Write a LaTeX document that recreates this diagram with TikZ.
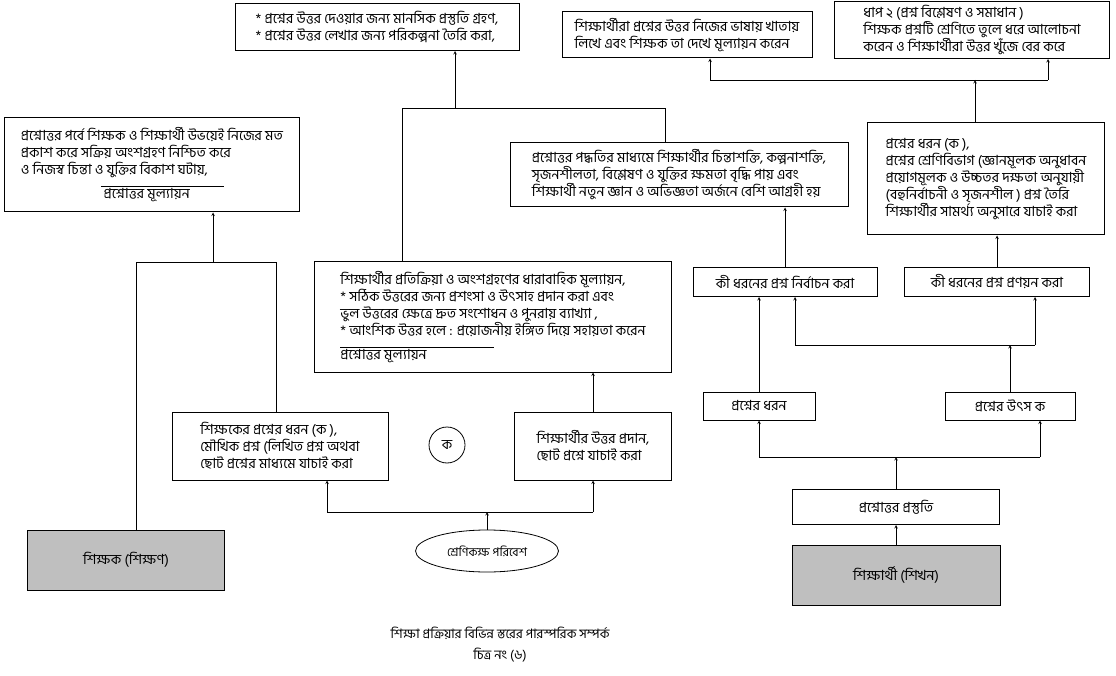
\documentclass[tikz,border=0pt]{standalone}
\usepackage{fontspec}
\newfontfamily\bnfont[Script=Bengali]{Hind Siliguri}
\usetikzlibrary{shapes.geometric}

\newcommand\boxfont{\bnfont\fontsize{14}{17}\selectfont}

\tikzset{
  box/.style={draw, line width=1pt, inner xsep=7pt, inner ysep=2pt, align=left, font=\boxfont},
  greybox/.style={box, fill=gray!50, align=center},
  conn/.style={line width=0.6pt},
  arr/.style={conn, ->, >=stealth}
}

\begin{document}
\begin{tikzpicture}[x=1pt, y=-1pt]
	\useasboundingbox (0,0) rectangle (1116,676);

	% top row
	\node[box, minimum width=284pt, minimum height=47pt] (prep) at (377,27) {* প্রশ্নের উত্তর দেওয়ার জন্য মানসিক প্রস্তুতি গ্রহণ,\\* প্রশ্নের উত্তর লেখার জন্য পরিকল্পনা তৈরি করা,};
	\node[box, minimum width=250pt, minimum height=46pt] (answer) at (687,35) {শিক্ষার্থীরা প্রশ্নের উত্তর নিজের ভাষায় খাতায়\\লিখে এবং শিক্ষক তা দেখে মূল্যায়ন করেন};
	\node[box, minimum width=275pt, minimum height=57pt] (stepTwo) at (972,30) {ধাপ ২ (প্রশ্ন বিশ্লেষণ ও সমাধান )\\শিক্ষক প্রশ্নটি শ্রেণিতে তুলে ধরে আলোচনা\\করেন ও শিক্ষার্থীরা উত্তর খুঁজে বের করে};

	% middle row
	\node[box, minimum width=295pt, minimum height=94pt] (discuss) at (152,165) {প্রশ্নোত্তর পর্বে শিক্ষক ও শিক্ষার্থী উভয়েই নিজের মত\\প্রকাশ করে সক্রিয় অংশগ্রহণ নিশ্চিত করে\\ও নিজস্ব চিন্তা ও যুক্তির বিকাশ ঘটায়,\\[-5pt]\hspace*{5.7em}\rule{8.8em}{0.6pt}\\[-5pt]\hspace*{5.9em}প্রশ্নোত্তর মূল্যায়ন};
	\node[box, minimum width=338pt, minimum height=64pt] (effect) at (679,175) {প্রশ্নোত্তর পদ্ধতির মাধ্যমে শিক্ষার্থীর চিন্তাশক্তি, কল্পনাশক্তি,\\সৃজনশীলতা, বিশ্লেষণ ও যুক্তির ক্ষমতা বৃদ্ধি পায় এবং\\শিক্ষার্থী নতুন জ্ঞান ও অভিজ্ঞতা অর্জনে বেশি আগ্রহী হয়};
	\node[box, minimum width=237pt, minimum height=112pt] (types) at (986,179) {প্রশ্নের ধরন (ক ),\\প্রশ্নের শ্রেণিবিভাগ (জ্ঞানমূলক অনুধাবন\\প্রয়োগমূলক ও উচ্চতর দক্ষতা অনুযায়ী\\(বহুনির্বাচনী ও সৃজনশীল ) প্রশ্ন তৈরি\\শিক্ষার্থীর সামর্থ্য অনুসারে যাচাই করা};

	\node[box, minimum width=357pt, minimum height=110pt] (feedback) at (493,317) {শিক্ষার্থীর প্রতিক্রিয়া ও অংশগ্রহণের ধারাবাহিক মূল্যায়ন,\\* সঠিক উত্তরের জন্য প্রশংসা ও উৎসাহ প্রদান করা এবং\\ভুল উত্তরের ক্ষেত্রে দ্রুত সংশোধন ও পুনরায় ব্যাখ্যা ,\\* আংশিক উত্তর হলে : প্রয়োজনীয় ইঙ্গিত দিয়ে সহায়তা করেন\\[-5pt]\rule{11em}{0.6pt}\\[-5pt]প্রশ্নোত্তর মূল্যায়ন};
	\node[box, minimum width=184pt, minimum height=29pt] (chooseQ) at (785,282) {কী ধরনের প্রশ্ন নির্বাচন করা};
	\node[box, minimum width=185pt, minimum height=29pt] (makeQ) at (997,282) {কী ধরনের প্রশ্ন প্রণয়ন করা};

	% lower row
	\node[box, minimum width=216pt, minimum height=68pt] (teachAsk) at (280,446) {শিক্ষকের প্রশ্নের ধরন (ক ),\\মৌখিক প্রশ্ন (লিখিত প্রশ্ন অথবা\\ছোট প্রশ্নের মাধ্যমে যাচাই করা};
	\node[draw, circle, line width=0.8pt, minimum size=36pt, font=\boxfont] (mark) at (447,445) {ক};
	\node[box, minimum width=157pt, minimum height=68pt] (learnReply) at (593,446) {শিক্ষার্থীর উত্তর প্রদান,\\ছোট প্রশ্নে যাচাই করা};
	\node[box, minimum width=112pt, minimum height=28pt, align=center] (qKind) at (759,406) {প্রশ্নের ধরন};
	\node[box, minimum width=130pt, minimum height=28pt, align=center] (qSource) at (1010,406) {প্রশ্নের উৎস ক};
	\node[box, minimum width=207pt, minimum height=35pt, align=center] (qPrep) at (896,507) {প্রশ্নোত্তর প্রস্তুতি};

	% bottom
	\node[greybox, minimum width=197pt, minimum height=60pt] (teacher) at (126,560) {শিক্ষক (শিক্ষণ)};
	\node[greybox, minimum width=208pt, minimum height=60pt] (learner) at (896,575) {শিক্ষার্থী (শিখন)};
	\node[draw, ellipse, line width=0.8pt, minimum width=143pt, minimum height=42pt, font=\bnfont\fontsize{12}{14}\selectfont] (room) at (487,551) {শ্রেণিকক্ষ পরিবেশ};

	\node[font=\bnfont\fontsize{13}{16}\selectfont] (capA) at (500,633) {শিক্ষা প্রক্রিয়ার বিভিন্ন স্তরের পারস্পরিক সম্পর্ক};
	\node[font=\bnfont\fontsize{13}{16}\selectfont] (capB) at (500,655) {চিত্র নং (৬)};

	% connectors
	\coordinate (upL) at (402,108);
	\coordinate (upR) at (665,108);
	\coordinate (upT) at (455,108);
	\draw[conn] (feedback.north -| upL) -- (upL) -- (upR) -- (effect.north -| upR);
	\draw[arr] (upT) -- (prep.south -| upT);

	\coordinate (topL) at (710,80);
	\coordinate (topR) at (1048,80);
	\draw[conn] (topL) -- (topR);
	\draw[arr] (topL) -- (answer.south -| topL);
	\draw[arr] (topR) -- (stepTwo.south -| topR);
	\coordinate (topM) at (975,80);
	\draw[arr] (types.north -| topM) -- (topM);

	\draw[arr] (chooseQ.north) -- (effect.south -| chooseQ.north);
	\draw[arr] (makeQ.north) -- (types.south -| makeQ.north);
	\draw[arr] (qKind.north) -- (chooseQ.south -| qKind.north);

	\coordinate (midL) at (795,345);
	\coordinate (midR) at (1035,345);
	\draw[conn] (midL) -- (midR);
	\draw[arr] (midL) -- (chooseQ.south -| midL);
	\draw[arr] (midR) -- (makeQ.south -| midR);
	\draw[arr] (qSource.north) -- (qSource.north |- midL);

	\coordinate (lowL) at (759,457);
	\coordinate (lowR) at (1040,457);
	\draw[conn] (lowL) -- (lowR);
	\draw[arr] (lowL) -- (qKind.south -| lowL);
	\draw[arr] (lowR) -- (qSource.south -| lowR);
	\draw[arr] (qPrep.north) -- (qPrep.north |- lowL);
	\draw[arr] (learner.north) -- (qPrep.south);

	\coordinate (leftL) at (136,262);
	\coordinate (leftR) at (276,262);
	\coordinate (leftM) at (213,262);
	\draw[conn] (teacher.north -| leftL) -- (leftL) -- (leftR) -- (teachAsk.north -| leftR);
	\draw[arr] (leftM) -- (discuss.south -| leftM);

	\coordinate (baseL) at (327,512);
	\coordinate (baseR) at (593,512);
	\draw[conn] (baseL) -- (baseR);
	\draw[arr] (baseL) -- (teachAsk.south -| baseL);
	\draw[arr] (baseR) -- (learnReply.south);
	\draw[arr] (room.north) -- (room.north |- baseL);
	\draw[arr] (learnReply.north) -- (feedback.south -| learnReply.north);
\end{tikzpicture}
\end{document}
